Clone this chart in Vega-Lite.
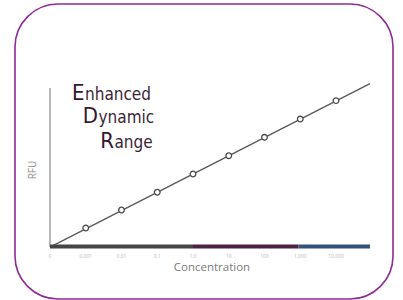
{
  "$schema": "https://vega.github.io/schema/vega-lite/v6.json",
  "width": 378,
  "height": 295,
  "autosize": {"type": "none"},
  "padding": {"left": 15, "top": 4, "right": 10, "bottom": 1},
  "background": "white",
  "config": {
    "view": {"stroke": "#8e2a93", "strokeWidth": 1.6, "cornerRadius": 43, "fill": "white"}
  },
  "datasets": {
    "line": [{"x": 0, "y": 0}, {"x": 8.95, "y": 8.95}],
    "points": [
      {"x": 1, "y": 1.04}, {"x": 2, "y": 2.03}, {"x": 3, "y": 3.0}, {"x": 4, "y": 4.0},
      {"x": 5, "y": 5.0}, {"x": 6, "y": 6.01}, {"x": 7, "y": 7.01}, {"x": 8, "y": 8.02}
    ],
    "bar": [
      {"x": 0, "x2": 4.0, "y": 0.03, "seg": "low"},
      {"x": 4.0, "x2": 6.95, "y": 0.03, "seg": "mid"},
      {"x": 6.95, "x2": 8.95, "y": 0.03, "seg": "high"}
    ],
    "yaxis": [{"x": 0, "y": 0, "y2": 8.71}],
    "ticks": [
      {"x": 0, "y": -0.49, "t": "0"}, {"x": 1, "y": -0.49, "t": "0.001"},
      {"x": 2, "y": -0.49, "t": "0.01"}, {"x": 3, "y": -0.49, "t": "0.1"},
      {"x": 4, "y": -0.49, "t": "1.0"}, {"x": 5, "y": -0.49, "t": "10"},
      {"x": 6, "y": -0.49, "t": "100"}, {"x": 7, "y": -0.49, "t": "1,000"},
      {"x": 8, "y": -0.49, "t": "10,000"}
    ],
    "xtitle": [{"x": 4.53, "y": -1.15, "t": "Concentration"}],
    "ytitle": [{"x": -0.476, "y": 4.22, "t": "RFU"}],
    "caps": [
      {"x": 0.965, "y": 8.05, "t": "E"},
      {"x": 1.343, "y": 6.79, "t": "D"},
      {"x": 1.79, "y": 5.41, "t": "R"}
    ],
    "rest": [
      {"x": 0.979, "y": 8.05, "t": "nhanced"},
      {"x": 1.357, "y": 6.79, "t": "ynamic"},
      {"x": 1.804, "y": 5.41, "t": "ange"}
    ]
  },
  "encoding": {
    "x": {"field": "x", "type": "quantitative", "scale": {"domain": [-0.979, 9.594], "nice": false, "zero": false}, "axis": null},
    "y": {"field": "y", "type": "quantitative", "scale": {"domain": [-2.849, 13.315], "nice": false, "zero": false}, "axis": null}
  },
  "layer": [
    {
      "data": {"name": "yaxis"},
      "mark": {"type": "rule", "color": "#a0a0a0", "strokeWidth": 1.5},
      "encoding": {"y2": {"field": "y2"}}
    },
    {
      "data": {"name": "line"},
      "mark": {"type": "line", "color": "#5a5a5a", "strokeWidth": 1.4},
      "encoding": {}
    },
    {
      "data": {"name": "bar"},
      "mark": {"type": "rule", "strokeWidth": 4},
      "encoding": {
        "x2": {"field": "x2"},
        "color": {"field": "seg", "type": "nominal", "legend": null,
          "scale": {"domain": ["low", "mid", "high"], "range": ["#454545", "#4b2442", "#34507a"]}}
      }
    },
    {
      "data": {"name": "points"},
      "mark": {"type": "point", "shape": "circle", "filled": false, "fill": "white", "fillOpacity": 1, "stroke": "#4a4a4a", "strokeWidth": 1.3, "size": 32, "opacity": 1}
    },
    {
      "data": {"name": "ticks"},
      "mark": {"type": "text", "fontSize": 5, "color": "#b5b5b5", "font": "Open Sans", "align": "center", "baseline": "middle"},
      "encoding": {"text": {"field": "t"}}
    },
    {
      "data": {"name": "xtitle"},
      "mark": {"type": "text", "fontSize": 11.5, "color": "#7a7a7a", "font": "Open Sans", "align": "center", "baseline": "middle"},
      "encoding": {"text": {"field": "t"}}
    },
    {
      "data": {"name": "ytitle"},
      "mark": {"type": "text", "fontSize": 10, "color": "#8f8f8f", "font": "Open Sans", "align": "center", "baseline": "middle", "angle": 270},
      "encoding": {"text": {"field": "t"}}
    },
    {
      "data": {"name": "caps"},
      "mark": {"type": "text", "fontSize": 22, "color": "#35182f", "font": "'DejaVu Sans Condensed', 'DejaVu Sans', sans-serif", "align": "right", "baseline": "alphabetic"},
      "encoding": {"text": {"field": "t"}}
    },
    {
      "data": {"name": "rest"},
      "mark": {"type": "text", "fontSize": 17, "color": "#3a2637", "font": "'DejaVu Sans Condensed', 'DejaVu Sans', sans-serif", "fontWeight": 500, "align": "left", "baseline": "alphabetic"},
      "encoding": {"text": {"field": "t"}}
    }
  ]
}
